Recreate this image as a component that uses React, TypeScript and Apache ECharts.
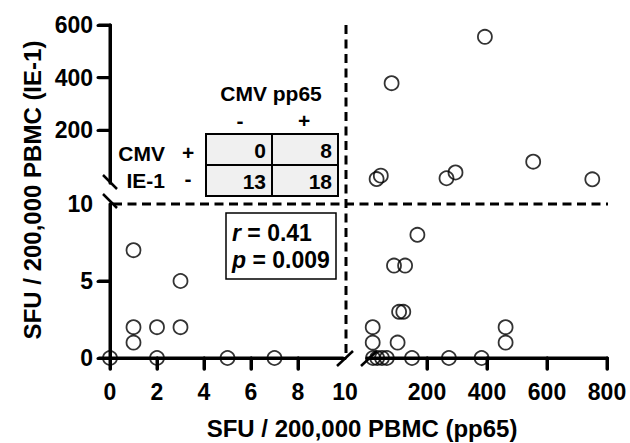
import React, { useEffect, useRef } from "react";
import * as echarts from "echarts";

// ---- data ----
// lower-left quadrant: pp65 0..10, IE-1 0..10
const llPp65 = [0, 1, 1, 1, 2, 2, 3, 3, 5, 7];
const llIe1 = [0, 7, 2, 1, 2, 0, 5, 2, 0, 0];
// lower-right quadrant: pp65 > 10, IE-1 0..10
const lrPp65 = [168, 90, 127, 107, 121, 19, 19, 102, 20, 34, 50, 66, 150, 273, 382, 462, 462];
const lrIe1 = [8, 6, 6, 3, 3, 2, 1, 1, 0, 0, 0, 0, 0, 0, 0, 2, 1];
// upper-right quadrant: pp65 > 10, IE-1 > 10
const urPp65 = [82, 393, 32, 46, 265, 295, 554, 751];
const urIe1 = [379, 555, 15, 28, 18, 40, 81, 14];

// tick values (labels) and tick marks
const xLowLabels = [0, 2, 4, 6, 8, 10];
const xLowTicks = [0, 2, 4, 6, 8];
const xHighTicks = [200, 400, 600, 800];
const yLowLabels = [0, 5, 10];
const yLowTicks = [0, 5];
const yHighTicks = [200, 400, 600];

// contingency table
const tableColTitle = "CMV pp65";
const tableColLabels = ["-", "+"];
const tableRowTitle = ["CMV", "IE-1"];
const tableRowLabels = ["+", "-"];
const tableValues = [
  [0, 8],
  [13, 18],
];
const statR = "0.41";
const statP = "0.009";
const xTitle = "SFU / 200,000 PBMC (pp65)";
const yTitle = "SFU / 200,000 PBMC (IE-1)";

const FONT = "'Liberation Sans', Arial, Helvetica, sans-serif";

export default function App() {
  const ref = useRef<HTMLDivElement>(null);
  useEffect(() => {
    document.body.style.margin = "0";
    if (!ref.current) return;
    const chart = echarts.init(ref.current, null, { renderer: "svg" });

    // layout
    const xL0 = 110, xL1 = 345; // left x segment
    const xR0 = 367, xR1 = 607; // right x segment
    const yLowTop = 204, yLowBot = 358;
    const yHighTop = 25, yHighBot = 183;

    const roundLine = () => ({ color: "#000", width: 3, cap: "round" as const });
    const labelStyle = () => ({ color: "#000", fontSize: 23, fontWeight: "bold" as const, fontFamily: FONT });

    const sym = {
      type: "scatter" as const,
      symbol: "circle",
      symbolSize: 14,
      clip: false,
      z: 5,
      itemStyle: { color: "rgba(0,0,0,0)", borderColor: "#000", borderWidth: 1.8 },
    };

    chart.setOption({
      animation: false,
      grid: [
        { left: xL0, top: yLowTop, width: xL1 - xL0, height: yLowBot - yLowTop },
        { left: xR0, top: yLowTop, width: xR1 - xR0, height: yLowBot - yLowTop },
        { left: xR0, top: yHighTop, width: xR1 - xR0, height: yHighBot - yHighTop },
        { left: xL0, top: yHighTop, width: xL1 - xL0, height: yHighBot - yHighTop },
      ],
      xAxis: [
        {
          gridIndex: 0, type: "value", min: 0, max: 10, interval: 2,
          axisLine: { show: true, onZero: false, lineStyle: roundLine() },
          axisTick: { show: true, length: 11, lineStyle: roundLine(), customValues: xLowTicks },
          axisLabel: { ...labelStyle(), margin: 22, customValues: xLowLabels },
          splitLine: { show: false },
        },
        {
          gridIndex: 1, type: "value", min: 0, max: 800,
          axisLine: { show: true, onZero: false, lineStyle: roundLine() },
          axisTick: { show: true, length: 11, lineStyle: roundLine(), customValues: xHighTicks },
          axisLabel: { ...labelStyle(), margin: 22, customValues: xHighTicks },
          splitLine: { show: false },
        },
        { gridIndex: 2, type: "value", min: 0, max: 800, show: false },
        { gridIndex: 3, type: "value", min: 0, max: 10, show: false },
      ],
      yAxis: [
        {
          gridIndex: 0, type: "value", min: 0, max: 10, interval: 5,
          axisLine: { show: true, onZero: false, lineStyle: roundLine() },
          axisTick: { show: true, length: 12, lineStyle: roundLine(), customValues: yLowTicks },
          axisLabel: { ...labelStyle(), margin: 17, customValues: yLowLabels },
          splitLine: { show: false },
        },
        { gridIndex: 1, type: "value", min: 0, max: 10, show: false },
        { gridIndex: 2, type: "value", min: 0, max: 600, show: false },
        {
          gridIndex: 3, type: "value", min: 0, max: 600,
          axisLine: { show: true, onZero: false, lineStyle: roundLine() },
          axisTick: { show: true, length: 12, lineStyle: roundLine(), customValues: yHighTicks },
          axisLabel: { ...labelStyle(), margin: 17, customValues: yHighTicks },
          splitLine: { show: false },
        },
      ],
      series: [
        { ...sym, xAxisIndex: 0, yAxisIndex: 0, data: llPp65.map((v, i) => [v, llIe1[i]]) },
        { ...sym, xAxisIndex: 1, yAxisIndex: 1, data: lrPp65.map((v, i) => [v, lrIe1[i]]) },
        { ...sym, xAxisIndex: 2, yAxisIndex: 2, data: urPp65.map((v, i) => [v, urIe1[i]]) },
        { ...sym, xAxisIndex: 3, yAxisIndex: 3, data: [] },
      ],
    });

    const px = (axis: number, v: number) => chart.convertToPixel({ xAxisIndex: axis }, v) as number;
    const py = (axis: number, v: number) => chart.convertToPixel({ yAxisIndex: axis }, v) as number;
    const graphics: any[] = [];

    // axis lines and ticks redrawn through the chart's scales (round caps)
    const axStyle = { stroke: "#000", lineWidth: 3, lineCap: "round" };
    const seg = (x1: number, y1: number, x2: number, y2: number) =>
      graphics.push({ type: "polyline", z: 10, shape: { points: [[x1, y1], [x2, y2]] }, style: axStyle });
    const ax0 = px(0, 0);
    const yBase = py(0, 0);
    const TL = 11;
    seg(ax0, yBase, ax0, py(0, 10));
    yLowTicks.forEach((v) => seg(ax0 - TL, py(0, v), ax0, py(0, v)));
    seg(ax0, py(3, 0), ax0, py(3, 600));
    yHighTicks.forEach((v) => seg(ax0 - TL, py(3, v), ax0, py(3, v)));
    seg(ax0, yBase, px(0, 10) - 2, yBase);
    xLowTicks.forEach((v) => seg(px(0, v), yBase, px(0, v), yBase + TL));
    seg(px(1, 0), yBase, px(1, 800), yBase);
    xHighTicks.forEach((v) => seg(px(1, v), yBase, px(1, v), yBase + TL));

    // table graphics
    const tX0 = 206, tX1 = 272, tX2 = 338;
    const tY0 = 134, tY1 = 165, tY2 = 196;
    const cellX = [tX0, tX1];
    const cellW = [tX1 - tX0, tX2 - tX1];
    const cellY = [tY0, tY1];
    const cellH = [tY1 - tY0, tY2 - tY1];
    const tableFont = { fontSize: 21, fontWeight: "bold", fontFamily: FONT, fill: "#000" };
    for (let r = 0; r < 2; r++) {
      for (let c = 0; c < 2; c++) {
        graphics.push({
          type: "rect",
          shape: { x: cellX[c], y: cellY[r], width: cellW[c], height: cellH[r] },
          style: { fill: "#f0f0f0", stroke: "#000", lineWidth: 2 },
        });
        graphics.push({
          type: "text",
          x: cellX[c] + cellW[c] - 6,
          y: cellY[r] + cellH[r] / 2 + 1,
          style: { ...tableFont, text: String(tableValues[r][c]), align: "right", verticalAlign: "middle" },
        });
      }
    }
    graphics.push({
      type: "text", x: 271, y: 93,
      style: { ...tableFont, text: tableColTitle, align: "center", verticalAlign: "middle" },
    });
    graphics.push({
      type: "text", x: 240, y: 120,
      style: { ...tableFont, text: tableColLabels[0], align: "center", verticalAlign: "middle" },
    });
    graphics.push({
      type: "text", x: 304, y: 120,
      style: { ...tableFont, text: tableColLabels[1], align: "center", verticalAlign: "middle" },
    });
    graphics.push({
      type: "text", x: 165, y: 153,
      style: { ...tableFont, text: tableRowTitle[0], align: "right", verticalAlign: "middle" },
    });
    graphics.push({
      type: "text", x: 165, y: 180,
      style: { ...tableFont, text: tableRowTitle[1], align: "right", verticalAlign: "middle" },
    });
    graphics.push({
      type: "text", x: 188, y: 152,
      style: { ...tableFont, text: tableRowLabels[0], align: "center", verticalAlign: "middle" },
    });
    graphics.push({
      type: "text", x: 188, y: 178,
      style: { ...tableFont, text: tableRowLabels[1], align: "center", verticalAlign: "middle" },
    });

    // stats box
    graphics.push({
      type: "rect",
      shape: { x: 226, y: 213, width: 110, height: 66 },
      style: { fill: "#fff", stroke: "#000", lineWidth: 1.5 },
    });
    const statRich = {
      i: { fontSize: 23, fontWeight: "bold", fontStyle: "italic", fontFamily: FONT, fill: "#000" },
      n: { fontSize: 23, fontWeight: "bold", fontFamily: FONT, fill: "#000" },
    };
    graphics.push({
      type: "text", x: 232, y: 233,
      style: { text: "{i|r}{n| = " + statR + "}", rich: statRich, align: "left", verticalAlign: "middle" },
    });
    graphics.push({
      type: "text", x: 232, y: 260,
      style: { text: "{i|p}{n| = " + statP + "}", rich: statRich, align: "left", verticalAlign: "middle" },
    });

    // dashed reference lines at pp65 = 10 and IE-1 = 10
    const dash = { stroke: "#000", lineWidth: 3, lineDash: [9, 5.5] };
    const yTen = py(0, 10);
    const xTen = px(0, 10) + 1;
    graphics.push({ type: "line", shape: { x1: ax0 + 3, y1: yTen, x2: px(1, 800) + 1, y2: yTen }, style: dash });
    graphics.push({ type: "line", shape: { x1: xTen, y1: py(3, 600), x2: xTen, y2: yBase - 1 }, style: dash });

    // axis break marks
    const brk = { stroke: "#000", lineWidth: 2.5 };
    graphics.push({ type: "line", z: 11, shape: { x1: 103, y1: 175, x2: 117, y2: 189 }, style: brk });
    graphics.push({ type: "line", z: 11, shape: { x1: 103, y1: 194, x2: 117, y2: 208 }, style: brk });
    graphics.push({ type: "line", z: 11, shape: { x1: 337, y1: 366, x2: 353, y2: 351 }, style: brk });
    graphics.push({ type: "line", z: 11, shape: { x1: 361, y1: 366, x2: 377, y2: 351 }, style: brk });

    // axis titles
    graphics.push({
      type: "text", x: 362, y: 428,
      style: { text: xTitle, fontSize: 24, fontWeight: "bold", fontFamily: FONT, fill: "#000", align: "center", verticalAlign: "middle" },
    });
    graphics.push({
      type: "text", x: 32, y: 190, rotation: Math.PI / 2,
      style: { text: yTitle, fontSize: 24, fontWeight: "bold", fontFamily: FONT, fill: "#000", align: "center", verticalAlign: "middle" },
    });

    chart.setOption({ graphic: graphics });
    return () => chart.dispose();
  }, []);
  return <div ref={ref} style={{ width: 630, height: 443 }} />;
}
